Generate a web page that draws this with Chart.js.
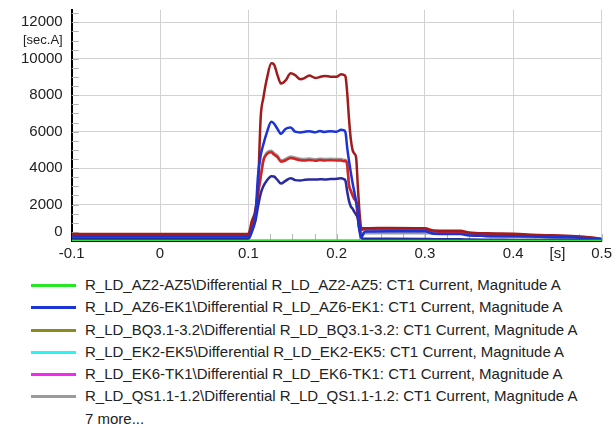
<!DOCTYPE html>
<html>
<head>
<meta charset="utf-8">
<script src="https://cdn.jsdelivr.net/npm/chart.js@4.4.1/dist/chart.umd.min.js"></script>
<style>
  html, body { margin: 0; padding: 0; background: #fff; }
  #wrap { position: relative; width: 616px; height: 428px; overflow: hidden; }
  #chart-box { position: absolute; left: 0; top: 0; width: 616px; height: 269px; }
  #legend { position: absolute; left: 0; top: 274px; width: 616px;
    font: 15px "Liberation Sans", Arial, sans-serif; color: #222; }
  .legend-row { height: 22.3px; line-height: 22.3px; white-space: nowrap; position: relative; }
  .legend-swatch { position: absolute; left: 31px; top: 10px; width: 45px; height: 3px; }
  .legend-text { position: absolute; left: 85px; top: 0; }
</style>
</head>
<body>
<div id="wrap">
  <div id="chart-box"><canvas id="trend" width="616" height="269"></canvas></div>
  <div id="legend"></div>
</div>
<script>
/* ---------- Data ---------- */
// shared time base [s] for the fault recordings
var TIME = [-0.1, 0.0, 0.1, 0.104, 0.108, 0.111, 0.114, 0.117, 0.121, 0.126,
  0.129, 0.133, 0.137, 0.142, 0.148, 0.153, 0.159, 0.164, 0.169, 0.176,
  0.181, 0.186, 0.193, 0.2, 0.205, 0.208, 0.21, 0.212, 0.214, 0.216,
  0.218, 0.22, 0.222, 0.224, 0.226, 0.228, 0.232, 0.26, 0.3, 0.31,
  0.34, 0.35, 0.37, 0.4, 0.43, 0.46, 0.48, 0.5];

var AZ6_EK1 = [250, 250, 250, 600, 1400, 3600, 4700, 5300, 5960, 6550,
  6450, 6150, 5880, 6150, 6230, 6000, 5960, 6000, 6030, 5970,
  6040, 5980, 6030, 6000, 6100, 6080, 5960, 5100, 4400, 3780,
  3200, 2700, 2200, 1700, 800, 200, 520, 540, 530, 400,
  380, 300, 280, 260, 230, 200, 160, 100];

var QS11_12 = [200, 200, 200, 600, 1500, 2600, 3550, 4450, 4850, 4950,
  4830, 4680, 4430, 4500, 4640, 4580, 4510, 4500, 4530, 4480,
  4520, 4500, 4510, 4500, 4500, 4460, 4440, 4200, 3100, 2800,
  2550, 2350, 2180, 1350, 600, 420, 420, 420, 420, 420,
  410, 400, 250, 220, 200, 150, 120, 60];

var DARK_RED = [380, 380, 400, 1100, 1700, 3000, 6800, 7850, 8900, 9750,
  9700, 9100, 8640, 8800, 9200, 9100, 8880, 8950, 9080, 8950,
  9000, 9060, 9020, 9010, 9150, 9120, 9030, 8100, 6700, 5600,
  5000, 4800, 4600, 3000, 1500, 700, 700, 720, 700, 580,
  560, 470, 420, 400, 330, 290, 230, 120];

var RED = [300, 300, 300, 700, 1600, 2600, 3500, 4400, 4770, 4870,
  4750, 4600, 4350, 4420, 4560, 4500, 4430, 4420, 4450, 4400,
  4440, 4420, 4430, 4420, 4420, 4380, 4400, 4150, 3050, 2750,
  2500, 2300, 2130, 1300, 550, 600, 640, 640, 620, 520,
  500, 430, 380, 350, 290, 250, 200, 100];

var NAVY = [120, 120, 120, 500, 1100, 1900, 2600, 3000, 3320, 3560,
  3540, 3350, 3150, 3300, 3450, 3340, 3320, 3360, 3380, 3370,
  3390, 3380, 3400, 3420, 3450, 3400, 3300, 2700, 2200, 1900,
  1780, 1600, 1450, 1230, 500, 150, 120, 120, 110, 100,
  90, 80, 70, 60, 50, 50, 40, 30];

// flat recordings
var ZERO_TIME = [-0.1, 0.5];
var ZERO_VALUES = [0, 0];
var BQ_TIME = [0.1, 0.226];
var BQ_VALUES = [0, 0];

// axis ticks (majors labelled, minors drawn as short inner marks)
var Y_TICKS = [0, 500, 1000, 1500, 2000, 2500, 3000, 3500, 4000, 4500, 5000,
  5500, 6000, 6500, 7000, 7500, 8000, 8500, 9000, 9500, 10000, 10500, 11000,
  11500, 12000, 12500];
var Y_UNIT = '[sec.A]';
var X_LABELS = ['-0.1', '0', '0.1', '0.2', '0.3', '0.4', '0.5'];
var X_UNIT = '[s]';

/* ---------- Helpers ---------- */
function pts(t, v) {
  return t.map(function (x, i) { return { x: x, y: v[i] }; });
}

function series(label, color, t, v, order) {
  return {
    label: label, data: pts(t, v), borderColor: color, backgroundColor: color,
    borderWidth: 2.5, pointRadius: 0, cubicInterpolationMode: 'monotone',
    fill: false, order: order
  };
}

var datasets = [
  series('R_LD_AZ2-AZ5\\Differential R_LD_AZ2-AZ5: CT1 Current, Magnitude A', '#26e626', ZERO_TIME, ZERO_VALUES, 0),
  series('R_LD_AZ6-EK1\\Differential R_LD_AZ6-EK1: CT1 Current, Magnitude A', '#1c33d6', TIME, AZ6_EK1, 1),
  series('R_LD_BQ3.1-3.2\\Differential R_LD_BQ3.1-3.2: CT1 Current, Magnitude A', '#8b8b22', BQ_TIME, BQ_VALUES, 0),
  series('R_LD_EK2-EK5\\Differential R_LD_EK2-EK5: CT1 Current, Magnitude A', '#2af5f5', ZERO_TIME, ZERO_VALUES, 8),
  series('R_LD_EK6-TK1\\Differential R_LD_EK6-TK1: CT1 Current, Magnitude A', '#f528f0', ZERO_TIME, ZERO_VALUES, 8),
  series('R_LD_QS1.1-1.2\\Differential R_LD_QS1.1-1.2: CT1 Current, Magnitude A', '#9a9a9a', TIME, QS11_12, 9),
  series('more 1', '#a01c1c', TIME, DARK_RED, 3),
  series('more 2', '#d42222', TIME, RED, 4),
  series('more 3', '#2a2aa0', TIME, NAVY, 2)
];

/* ---------- Inner minor ticks ---------- */
var innerTicks = {
  id: 'innerTicks',
  beforeDatasetsDraw: function (chart) {
    var ctx = chart.ctx, a = chart.chartArea;
    var xs = chart.scales.x, ys = chart.scales.y;
    ctx.save();
    ctx.strokeStyle = '#b4b4b4';
    ctx.lineWidth = 1;
    ctx.beginPath();
    ys.ticks.forEach(function (t) {
      if (t.value === 0) return;
      var py = Math.round(ys.getPixelForValue(t.value)) + 0.5;
      ctx.moveTo(a.left, py); ctx.lineTo(a.left + 7, py);
    });
    xs.ticks.forEach(function (t) {
      var px = Math.round(xs.getPixelForValue(t.value)) + 0.5;
      ctx.moveTo(px, a.bottom - 7); ctx.lineTo(px, a.bottom);
    });
    ctx.stroke();
    ctx.restore();
  }
};

function isMajorX(v) { return Math.abs(v * 10 - Math.round(v * 10)) < 1e-6; }

/* ---------- Chart ---------- */
var FONT = '"Liberation Sans", Arial, sans-serif';
new Chart(document.getElementById('trend'), {
  type: 'line',
  data: { datasets: datasets },
  options: {
    responsive: false,
    animation: false,
    devicePixelRatio: 1,
    layout: { padding: { left: 12, right: 14, top: 6, bottom: 2 } },
    plugins: { legend: { display: false }, tooltip: { enabled: false } },
    scales: {
      x: {
        type: 'linear', min: -0.1, max: 0.5,
        grid: {
          drawTicks: false,
          color: function (c) { return c.tick && isMajorX(c.tick.value) ? '#d2d2d2' : 'rgba(0,0,0,0)'; }
        },
        border: { color: '#000', width: 2 },
        ticks: {
          stepSize: 0.025, autoSkip: false, maxRotation: 0, padding: 4, color: '#222',
          font: { family: FONT, size: 15 },
          callback: function (v) {
            if (Math.abs(v - 0.45) < 1e-6) return X_UNIT;
            if (!isMajorX(v)) return '';
            return X_LABELS[Math.round(v * 10) + 1];
          }
        }
      },
      y: {
        min: 0, max: 12700,
        afterBuildTicks: function (scale) {
          scale.ticks = Y_TICKS.map(function (v) { return { value: v }; });
        },
        grid: {
          drawTicks: false,
          color: function (c) { return c.tick && c.tick.value % 2000 === 0 ? '#d2d2d2' : 'rgba(0,0,0,0)'; }
        },
        border: { color: '#000', width: 2 },
        ticks: {
          autoSkip: false, padding: 9, color: '#222',
          font: function (c) {
            var v = c.tick ? c.tick.value : 0;
            if (v === 11000) return { family: FONT, size: 13 };
            if (v % 2000 !== 0) return { family: FONT, size: 1 };
            return { family: FONT, size: 15 };
          },
          callback: function (v) {
            if (v === 11000) return Y_UNIT;
            // the bottom label sits above the axis line, as in the original trend view
            if (v === 0) return ['0', ''];
            return v % 2000 === 0 ? String(v) : '';
          }
        }
      }
    }
  },
  plugins: [innerTicks]
});

/* ---------- Legend ---------- */
var legend = document.getElementById('legend');
var html = '';
datasets.slice(0, 6).forEach(function (d) {
  html += '<div class="legend-row"><span class="legend-swatch" style="background:' + d.borderColor + '"></span>' +
    '<span class="legend-text">' + d.label + '</span></div>';
});
html += '<div class="legend-row"><span class="legend-text">7 more...</span></div>';
legend.innerHTML = html;
</script>
</body>
</html>
